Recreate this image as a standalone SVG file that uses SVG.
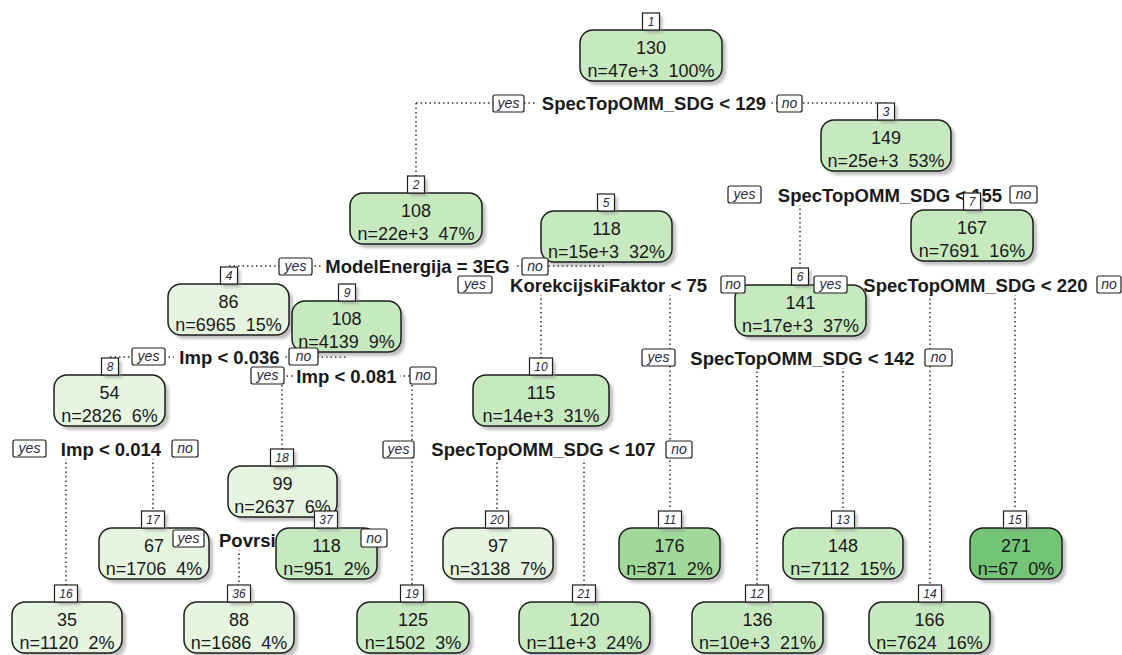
<svg xmlns="http://www.w3.org/2000/svg" width="1122" height="655" viewBox="0 0 1122 655" xml:space="preserve">
<defs>
<filter id="blur" x="-10%" y="-10%" width="120%" height="130%"><feGaussianBlur stdDeviation="1.6"/></filter>
</defs>
<style>
text{font-family:"Liberation Sans",Arial,sans-serif;white-space:pre;fill:#1a1a1a}
.sh{fill:#8c8c8c;opacity:.55;filter:url(#blur)}
.b{stroke:#1e1e1e;stroke-width:1.5}
.lt{fill:#e5f5e0}.md{fill:#c7e9c0}.hi{fill:#a1d99b}.dk{fill:#74c476}
.v,.c{font-size:18px;text-anchor:middle}
.t{fill:#fff;stroke:#1e1e1e;stroke-width:1.2}
.tt{font-size:12px;font-style:italic;text-anchor:middle;fill:#2a2a40}
.ln{fill:none;stroke:#333;stroke-width:1.5;stroke-dasharray:1.5 3}
.lb{font-size:18.5px;font-weight:bold;text-anchor:middle}
.bg{fill:#fff}
.yn{fill:#fff;stroke:#1e1e1e;stroke-width:1.2}
.ynt{font-size:14px;font-style:italic;text-anchor:middle;fill:#2a2a40}
</style>
<rect width="1122" height="655" fill="#fff"/>

<g id="connectors">
<path class="ln" d="M416,103 H886 M416,103 V176"/>
<path class="ln" d="M800,195 H972 M800,195 V268"/>
<path class="ln" d="M229,266 H606"/>
<path class="ln" d="M110,357 H347"/>
<path class="ln" d="M541,285 H670 M541,285 V358 M670,285 V510"/>
<path class="ln" d="M930,285 H1015 M930,285 V585 M1015,285 V510"/>
<path class="ln" d="M757,358 H843 M757,358 V585 M843,358 V510"/>
<path class="ln" d="M282,376 H412 M282,376 V449 M412,376 V585"/>
<path class="ln" d="M66,449 H153 M66,449 V585 M153,449 V510"/>
<path class="ln" d="M497,449 H584 M497,449 V510 M584,449 V585"/>
<path class="ln" d="M239,540 H326 M239,540 V585"/>
</g>

<g id="split-labels">
<rect class="bg" x="537" y="93" width="234" height="20"/><text class="lb" x="654" y="109.5">SpecTopOMM_SDG &lt; 129</text>
<rect class="bg" x="773" y="185" width="234" height="20"/><text class="lb" x="890" y="201.5">SpecTopOMM_SDG &lt; 155</text>
<rect class="bg" x="321" y="256" width="193" height="20"/><text class="lb" x="417.5" y="272.5">ModelEnergija = 3EG</text>
<rect class="bg" x="504" y="275" width="209" height="20"/><text class="lb" x="608.5" y="291.5">KorekcijskiFaktor &lt; 75</text>
<rect class="bg" x="859" y="275" width="233" height="20"/><text class="lb" x="975.5" y="291.5">SpecTopOMM_SDG &lt; 220</text>
<rect class="bg" x="174" y="347" width="111" height="20"/><text class="lb" x="229.5" y="363.5">Imp &lt; 0.036</text>
<rect class="bg" x="688" y="348" width="229" height="20"/><text class="lb" x="802.5" y="364.5">SpecTopOMM_SDG &lt; 142</text>
<rect class="bg" x="293" y="366" width="107" height="20"/><text class="lb" x="346.5" y="382.5">Imp &lt; 0.081</text>
<rect class="bg" x="57" y="439" width="108" height="20"/><text class="lb" x="111" y="455.5">Imp &lt; 0.014</text>
<rect class="bg" x="428" y="439" width="231" height="20"/><text class="lb" x="543.5" y="455.5">SpecTopOMM_SDG &lt; 107</text>
<rect class="bg" x="215" y="530" width="70" height="20"/><text class="lb" x="219" y="546.5" style="text-anchor:start">Povrsi</text>
</g>

<g id="node-1"><rect class="sh" x="584" y="34" width="142" height="51" rx="13"/><rect class="b md" x="580" y="30" width="142" height="51" rx="13"/><text class="v" x="651" y="53.5">130</text><text class="c" x="651" y="76.5">n=47e+3  100%</text><rect class="sh" x="645.5" y="16" width="17" height="17"/><rect class="t" x="642.5" y="13" width="17" height="17"/><text class="tt" x="651" y="26">1</text></g>
<g id="node-2"><rect class="sh" x="354" y="197" width="132" height="51" rx="13"/><rect class="b md" x="350" y="193" width="132" height="51" rx="13"/><text class="v" x="416" y="216.5">108</text><text class="c" x="416" y="239.5">n=22e+3  47%</text><rect class="sh" x="410.5" y="179" width="17" height="17"/><rect class="t" x="407.5" y="176" width="17" height="17"/><text class="tt" x="416" y="189">2</text></g>
<g id="node-3"><rect class="sh" x="825" y="124" width="130" height="51" rx="13"/><rect class="b md" x="821" y="120" width="130" height="51" rx="13"/><text class="v" x="886" y="143.5">149</text><text class="c" x="886" y="166.5">n=25e+3  53%</text><rect class="sh" x="880.5" y="106" width="17" height="17"/><rect class="t" x="877.5" y="103" width="17" height="17"/><text class="tt" x="886" y="116">3</text></g>
<g id="node-4"><rect class="sh" x="172" y="288" width="121" height="51" rx="13"/><rect class="b lt" x="168" y="284" width="121" height="51" rx="13"/><text class="v" x="228.5" y="307.5">86</text><text class="c" x="228.5" y="330.5">n=6965  15%</text><rect class="sh" x="223.5" y="270" width="17" height="17"/><rect class="t" x="220.5" y="267" width="17" height="17"/><text class="tt" x="229" y="280">4</text></g>
<g id="node-5"><rect class="sh" x="545" y="215" width="131" height="51" rx="13"/><rect class="b md" x="541" y="211" width="131" height="51" rx="13"/><text class="v" x="606.5" y="234.5">118</text><text class="c" x="606.5" y="257.5">n=15e+3  32%</text><rect class="sh" x="600.5" y="197" width="17" height="17"/><rect class="t" x="597.5" y="194" width="17" height="17"/><text class="tt" x="606" y="207">5</text></g>
<g id="node-6"><rect class="sh" x="739" y="289" width="131" height="51" rx="13"/><rect class="b md" x="735" y="285" width="131" height="51" rx="13"/><text class="v" x="800.5" y="308.5">141</text><text class="c" x="800.5" y="331.5">n=17e+3  37%</text><rect class="sh" x="794.5" y="271" width="17" height="17"/><rect class="t" x="791.5" y="268" width="17" height="17"/><text class="tt" x="800" y="281">6</text></g>
<g id="node-7"><rect class="sh" x="915" y="214" width="122" height="51" rx="13"/><rect class="b md" x="911" y="210" width="122" height="51" rx="13"/><text class="v" x="972" y="233.5">167</text><text class="c" x="972" y="256.5">n=7691  16%</text><rect class="sh" x="966.5" y="196" width="17" height="17"/><rect class="t" x="963.5" y="193" width="17" height="17"/><text class="tt" x="972" y="206">7</text></g>
<g id="node-8"><rect class="sh" x="58" y="379" width="111" height="51" rx="13"/><rect class="b lt" x="54" y="375" width="111" height="51" rx="13"/><text class="v" x="109.5" y="398.5">54</text><text class="c" x="109.5" y="421.5">n=2826  6%</text><rect class="sh" x="104.5" y="361" width="17" height="17"/><rect class="t" x="101.5" y="358" width="17" height="17"/><text class="tt" x="110" y="371">8</text></g>
<g id="node-9"><rect class="sh" x="296" y="305" width="109" height="51" rx="13"/><rect class="b md" x="292" y="301" width="109" height="51" rx="13"/><text class="v" x="346.5" y="324.5">108</text><text class="c" x="346.5" y="347.5">n=4139  9%</text><rect class="sh" x="341.5" y="287" width="17" height="17"/><rect class="t" x="338.5" y="284" width="17" height="17"/><text class="tt" x="347" y="297">9</text></g>
<g id="node-10"><rect class="sh" x="477" y="379" width="136" height="51" rx="13"/><rect class="b md" x="473" y="375" width="136" height="51" rx="13"/><text class="v" x="541" y="398.5">115</text><text class="c" x="541" y="421.5">n=14e+3  31%</text><rect class="sh" x="532.5" y="361" width="23" height="17"/><rect class="t" x="529.5" y="358" width="23" height="17"/><text class="tt" x="541" y="371">10</text></g>
<g id="node-11"><rect class="sh" x="623" y="532" width="101" height="51" rx="13"/><rect class="b hi" x="619" y="528" width="101" height="51" rx="13"/><text class="v" x="669.5" y="551.5">176</text><text class="c" x="669.5" y="574.5">n=871  2%</text><rect class="sh" x="661.5" y="514" width="23" height="17"/><rect class="t" x="658.5" y="511" width="23" height="17"/><text class="tt" x="670" y="524">11</text></g>
<g id="node-12"><rect class="sh" x="696" y="606" width="131" height="51" rx="13"/><rect class="b md" x="692" y="602" width="131" height="51" rx="13"/><text class="v" x="757.5" y="625.5">136</text><text class="c" x="757.5" y="648.5">n=10e+3  21%</text><rect class="sh" x="748.5" y="588" width="23" height="17"/><rect class="t" x="745.5" y="585" width="23" height="17"/><text class="tt" x="757" y="598">12</text></g>
<g id="node-13"><rect class="sh" x="787" y="532" width="120" height="51" rx="13"/><rect class="b md" x="783" y="528" width="120" height="51" rx="13"/><text class="v" x="843" y="551.5">148</text><text class="c" x="843" y="574.5">n=7112  15%</text><rect class="sh" x="834.5" y="514" width="23" height="17"/><rect class="t" x="831.5" y="511" width="23" height="17"/><text class="tt" x="843" y="524">13</text></g>
<g id="node-14"><rect class="sh" x="873" y="606" width="121" height="51" rx="13"/><rect class="b md" x="869" y="602" width="121" height="51" rx="13"/><text class="v" x="929.5" y="625.5">166</text><text class="c" x="929.5" y="648.5">n=7624  16%</text><rect class="sh" x="921.5" y="588" width="23" height="17"/><rect class="t" x="918.5" y="585" width="23" height="17"/><text class="tt" x="930" y="598">14</text></g>
<g id="node-15"><rect class="sh" x="974" y="532" width="92" height="51" rx="13"/><rect class="b dk" x="970" y="528" width="92" height="51" rx="13"/><text class="v" x="1016" y="551.5">271</text><text class="c" x="1016" y="574.5">n=67  0%</text><rect class="sh" x="1006.5" y="514" width="23" height="17"/><rect class="t" x="1003.5" y="511" width="23" height="17"/><text class="tt" x="1015" y="524">15</text></g>
<g id="node-16"><rect class="sh" x="16" y="606" width="110" height="51" rx="13"/><rect class="b lt" x="12" y="602" width="110" height="51" rx="13"/><text class="v" x="67" y="625.5">35</text><text class="c" x="67" y="648.5">n=1120  2%</text><rect class="sh" x="57.5" y="588" width="23" height="17"/><rect class="t" x="54.5" y="585" width="23" height="17"/><text class="tt" x="66" y="598">16</text></g>
<g id="node-17"><rect class="sh" x="103" y="532" width="110" height="51" rx="13"/><rect class="b lt" x="99" y="528" width="110" height="51" rx="13"/><text class="v" x="154" y="551.5">67</text><text class="c" x="154" y="574.5">n=1706  4%</text><rect class="sh" x="144.5" y="514" width="23" height="17"/><rect class="t" x="141.5" y="511" width="23" height="17"/><text class="tt" x="153" y="524">17</text></g>
<g id="node-18"><rect class="sh" x="232" y="470" width="109" height="51" rx="13"/><rect class="b lt" x="228" y="466" width="109" height="51" rx="13"/><text class="v" x="282.5" y="489.5">99</text><text class="c" x="282.5" y="512.5">n=2637  6%</text><rect class="sh" x="273.5" y="452" width="23" height="17"/><rect class="t" x="270.5" y="449" width="23" height="17"/><text class="tt" x="282" y="462">18</text></g>
<g id="node-19"><rect class="sh" x="361" y="606" width="112" height="51" rx="13"/><rect class="b md" x="357" y="602" width="112" height="51" rx="13"/><text class="v" x="413" y="625.5">125</text><text class="c" x="413" y="648.5">n=1502  3%</text><rect class="sh" x="403.5" y="588" width="23" height="17"/><rect class="t" x="400.5" y="585" width="23" height="17"/><text class="tt" x="412" y="598">19</text></g>
<g id="node-20"><rect class="sh" x="447" y="532" width="110" height="51" rx="13"/><rect class="b lt" x="443" y="528" width="110" height="51" rx="13"/><text class="v" x="498" y="551.5">97</text><text class="c" x="498" y="574.5">n=3138  7%</text><rect class="sh" x="488.5" y="514" width="23" height="17"/><rect class="t" x="485.5" y="511" width="23" height="17"/><text class="tt" x="497" y="524">20</text></g>
<g id="node-21"><rect class="sh" x="523" y="606" width="131" height="51" rx="13"/><rect class="b md" x="519" y="602" width="131" height="51" rx="13"/><text class="v" x="584.5" y="625.5">120</text><text class="c" x="584.5" y="648.5">n=11e+3  24%</text><rect class="sh" x="575.5" y="588" width="23" height="17"/><rect class="t" x="572.5" y="585" width="23" height="17"/><text class="tt" x="584" y="598">21</text></g>
<g id="node-36"><rect class="sh" x="188" y="606" width="110" height="51" rx="13"/><rect class="b lt" x="184" y="602" width="110" height="51" rx="13"/><text class="v" x="239" y="625.5">88</text><text class="c" x="239" y="648.5">n=1686  4%</text><rect class="sh" x="230.5" y="588" width="23" height="17"/><rect class="t" x="227.5" y="585" width="23" height="17"/><text class="tt" x="239" y="598">36</text></g>
<g id="node-37"><rect class="sh" x="280" y="532" width="101" height="51" rx="13"/><rect class="b md" x="276" y="528" width="101" height="51" rx="13"/><text class="v" x="326.5" y="551.5">118</text><text class="c" x="326.5" y="574.5">n=951  2%</text><rect class="sh" x="317.5" y="514" width="23" height="17"/><rect class="t" x="314.5" y="511" width="23" height="17"/><text class="tt" x="326" y="524">37</text></g>

<g id="yes-no">
<rect class="yn" x="493" y="95" width="31" height="17" rx="2"/><text class="ynt" x="508.5" y="108">yes</text>
<rect class="yn" x="777" y="95" width="25" height="17" rx="2"/><text class="ynt" x="789.5" y="108">no</text>
<rect class="yn" x="728" y="186" width="33" height="17" rx="2"/><text class="ynt" x="744.5" y="199">yes</text>
<rect class="yn" x="1010" y="186" width="27" height="17" rx="2"/><text class="ynt" x="1023.5" y="199">no</text>
<rect class="yn" x="279" y="258" width="33" height="17" rx="2"/><text class="ynt" x="295.5" y="271">yes</text>
<rect class="yn" x="522" y="258" width="26" height="17" rx="2"/><text class="ynt" x="535" y="271">no</text>
<rect class="yn" x="458" y="276" width="34" height="17" rx="2"/><text class="ynt" x="475" y="289">yes</text>
<rect class="yn" x="721" y="276" width="24" height="17" rx="2"/><text class="ynt" x="733" y="289">no</text>
<rect class="yn" x="814" y="276" width="33" height="17" rx="2"/><text class="ynt" x="830.5" y="289">yes</text>
<rect class="yn" x="1097" y="276" width="24" height="17" rx="2"/><text class="ynt" x="1109" y="289">no</text>
<rect class="yn" x="132" y="348" width="33" height="17" rx="2"/><text class="ynt" x="148.5" y="361">yes</text>
<rect class="yn" x="289" y="348" width="29" height="17" rx="2"/><text class="ynt" x="303.5" y="361">no</text>
<rect class="yn" x="642" y="349" width="33" height="17" rx="2"/><text class="ynt" x="658.5" y="362">yes</text>
<rect class="yn" x="925" y="349" width="27" height="17" rx="2"/><text class="ynt" x="938.5" y="362">no</text>
<rect class="yn" x="251" y="367" width="33" height="17" rx="2"/><text class="ynt" x="267.5" y="380">yes</text>
<rect class="yn" x="410" y="367" width="26" height="17" rx="2"/><text class="ynt" x="423" y="380">no</text>
<rect class="yn" x="13" y="440" width="33" height="17" rx="2"/><text class="ynt" x="29.5" y="453">yes</text>
<rect class="yn" x="172" y="440" width="26" height="17" rx="2"/><text class="ynt" x="185" y="453">no</text>
<rect class="yn" x="383" y="441" width="31" height="17" rx="2"/><text class="ynt" x="398.5" y="454">yes</text>
<rect class="yn" x="666" y="441" width="26" height="17" rx="2"/><text class="ynt" x="679" y="454">no</text>
<rect class="yn" x="173" y="530" width="31" height="17" rx="2"/><text class="ynt" x="188.5" y="543">yes</text>
<rect class="yn" x="361" y="529" width="26" height="18" rx="2"/><text class="ynt" x="374" y="542.5">no</text>
</g>
</svg>
